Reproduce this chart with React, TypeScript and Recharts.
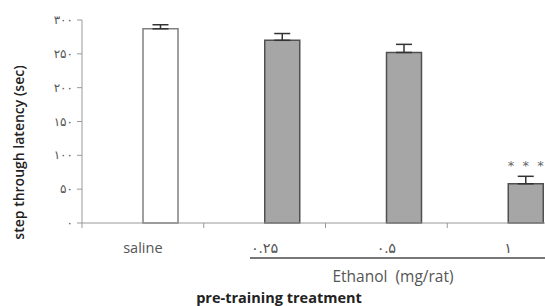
import React from 'react';
import { BarChart, Bar, XAxis, YAxis, ErrorBar, Cell, LabelList } from 'recharts';

const categories = ['saline', '۰.۲۵', '۰.۵', '۱'];
const latency = [287, 270, 252, 58];
const semUp = [6, 10, 12, 11];
const significance = ['', '', '', '*\u00a0\u00a0*\u00a0\u00a0*'];
const yTicks = [0, 50, 100, 150, 200, 250, 300];
const yTickLabels = ['۰', '۵۰', '۱۰۰', '۱۵۰', '۲۰۰', '۲۵۰', '۳۰۰'];
const barFills = ['#ffffff', '#a6a6a6', '#a6a6a6', '#a6a6a6'];
const barStrokes = ['#808080', '#505050', '#505050', '#505050'];

const data = categories.map((c, i) => ({
  name: c,
  blank: null,
  value: latency[i],
  err: [0, semUp[i]],
  sig: significance[i],
}));

const CHART_W = 600;
const PLOT_W = 600 - 82 - 31;

const XTick = (props: any) => {
  const { x, y, payload } = props;
  const off = payload && typeof payload.offset === 'number' && payload.offset > 0 ? payload.offset : PLOT_W / categories.length / 2;
  return (
    <g>
      <line x1={x - off} x2={x - off} y1={y} y2={y + 5} stroke="#999" strokeWidth={1} />
      <text x={x} y={y + 30} textAnchor="middle" fontSize={14.5} fill="#555" fontFamily="'Open Sans', 'DejaVu Sans', sans-serif">
        {payload.value}
      </text>
    </g>
  );
};

const YTick = (props: any) => {
  const { x, y, payload } = props;
  const idx = yTicks.indexOf(payload.value);
  return (
    <text x={x + 3} y={y + 4} textAnchor="end" fontSize={12} fill="#555" letterSpacing={3} fontFamily="'DejaVu Sans', sans-serif">
      {yTickLabels[idx]}
    </text>
  );
};

const XLabel = (props: any) => {
  const vb = props.viewBox || { x: 82, y: 223, width: PLOT_W, height: 83 };
  return (
    <g>
      <line x1={250} x2={CHART_W} y1={vb.y + 35} y2={vb.y + 35} stroke="#777" strokeWidth={2} />
      <text x={393} y={vb.y + 59} textAnchor="middle" fontSize={15.5} fill="#555" fontFamily="'Open Sans', sans-serif">
        {'Ethanol\u00a0\u00a0(mg/rat)'}
      </text>
      <text x={279} y={vb.y + 80} textAnchor="middle" fontSize={14.5} fontWeight="bold" fill="#222" fontFamily="'Open Sans', sans-serif">
        pre-training treatment
      </text>
    </g>
  );
};

export default function App() {
  return (
    <div style={{ position: 'fixed', left: 0, top: 0, width: 545, height: 306, overflow: 'hidden', background: '#fff' }}>
      <BarChart width={CHART_W} height={306} data={data} margin={{ top: 20, right: 31, bottom: 0, left: 0 }} barGap={0}>
        <XAxis
          dataKey="name"
          height={83}
          stroke="#999"
          tickLine={false}
          tickSize={0}
          tickMargin={0}
          tick={<XTick />}
          interval={0}
          label={<XLabel />}
        />
        <YAxis
          width={82}
          domain={[0, 300]}
          ticks={yTicks}
          stroke="#999"
          tickSize={5}
          tickMargin={7}
          tick={<YTick />}
          interval={0}
          label={{
            value: 'step through latency (sec)',
            angle: -90,
            position: 'insideLeft',
            dx: 14,
            dy: 31,
            style: { textAnchor: 'middle', fontSize: 14, fontWeight: 600, fill: '#222', fontFamily: "'Open Sans', sans-serif" },
          }}
        />
        <Bar dataKey="blank" barSize={35} fill="none" isAnimationActive={false} />
        <Bar dataKey="value" barSize={35} strokeWidth={1.5} isAnimationActive={false}>
          {data.map((d, i) => (
            <Cell key={i} fill={barFills[i]} stroke={barStrokes[i]} />
          ))}
          <ErrorBar dataKey="err" direction="y" width={8} stroke="#333" strokeWidth={1.5} />
          <LabelList dataKey="sig" position="top" offset={14} fontSize={13} fill="#666" fontFamily="'DejaVu Sans', sans-serif" />
        </Bar>
      </BarChart>
    </div>
  );
}
